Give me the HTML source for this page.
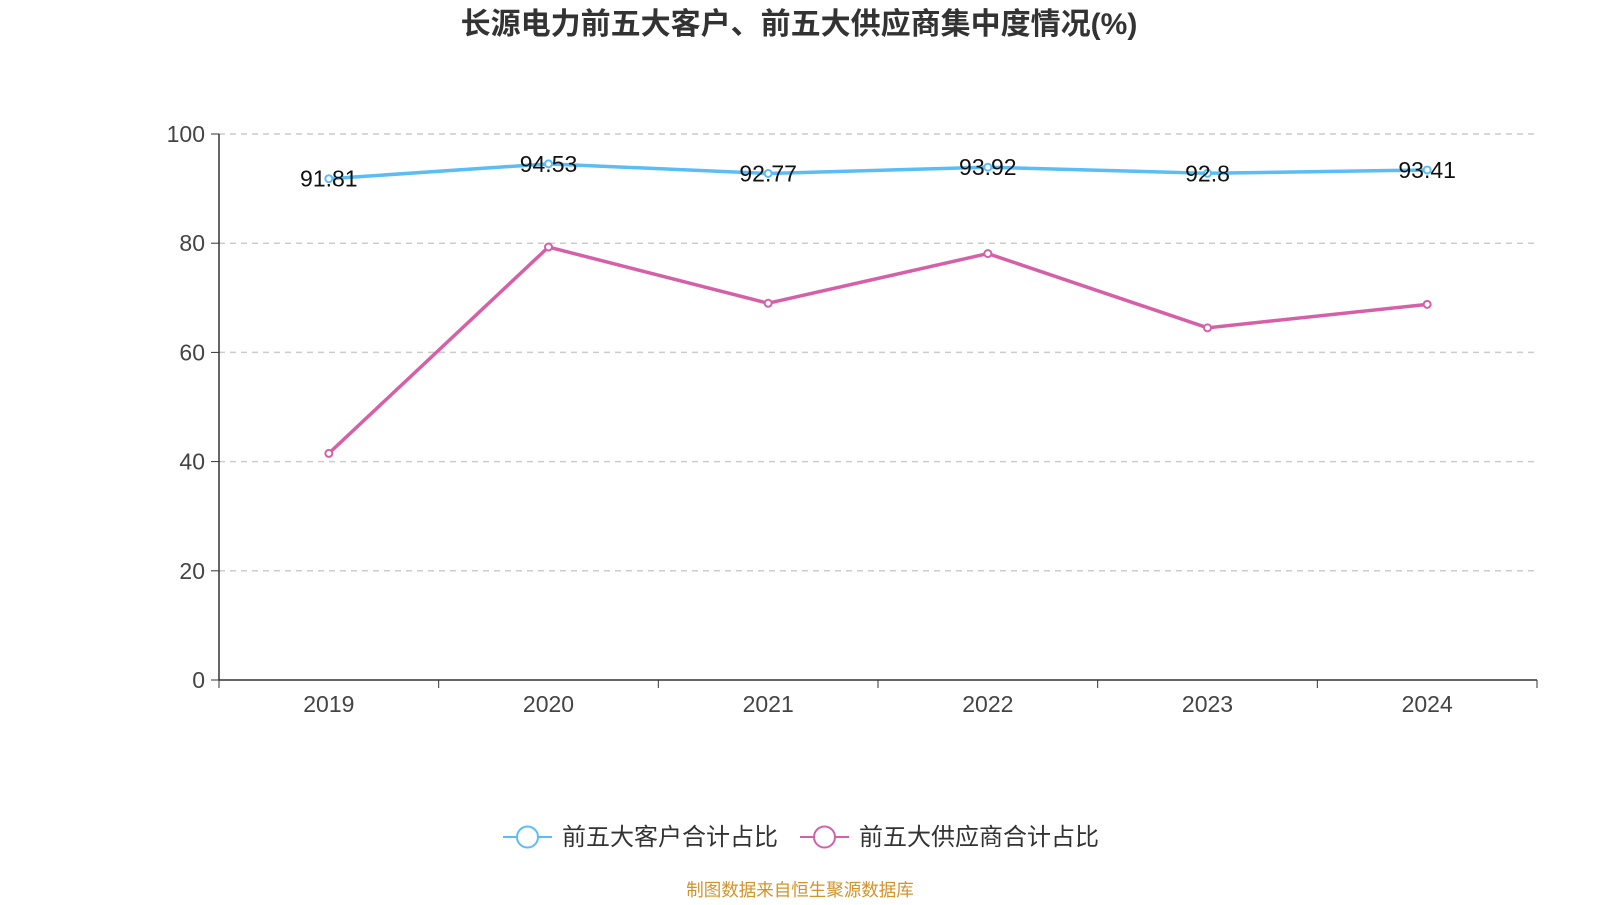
<!DOCTYPE html>
<html><head><meta charset="utf-8"><style>
body{margin:0;background:#fff;width:1600px;height:900px;overflow:hidden;font-family:"Liberation Sans","Noto Sans CJK SC",sans-serif}
</style></head><body>
<svg id="chart" width="1600" height="900" xmlns="http://www.w3.org/2000/svg" font-family="Liberation Sans, Noto Sans CJK SC, sans-serif"></svg>
<script>
const categories=["2019","2020","2021","2022","2023","2024"];
const customerValues=[91.81,94.53,92.77,93.92,92.8,93.41];
const supplierValues=[41.5,79.3,69.0,78.1,64.5,68.8];
const yTicks=[0,20,40,60,80,100];
const NS="http://www.w3.org/2000/svg";
const svg=document.getElementById('chart');
const L=219,R=1537,T=134,B=680;
const bw=(R-L)/categories.length;
const x=i=>L+bw*(i+0.5);
const y=v=>B-(v/100)*(B-T);
function mk(tag,attrs,parent){const e=document.createElementNS(NS,tag);for(const k in attrs)e.setAttribute(k,attrs[k]);(parent||svg).appendChild(e);return e;}
let t=mk('text',{x:799,y:34,'text-anchor':'middle','font-size':30,'font-weight':'bold',fill:'#333'});
t.textContent='长源电力前五大客户、前五大供应商集中度情况(%)';


yTicks.forEach(v=>{
 if(v>0){const g=mk('line',{x1:L,x2:R,y1:y(v),y2:y(v),stroke:'#ccc','stroke-dasharray':'6,5','stroke-width':1.5});
 
 }
 mk('line',{x1:L-8,x2:L,y1:y(v),y2:y(v),stroke:'#333'});
 const l=mk('text',{x:L-14,y:y(v)+8,'text-anchor':'end','font-size':23,fill:'#444'});l.textContent=v;
 
 
});
mk('line',{x1:L,x2:L,y1:T,y2:B,stroke:'#333','stroke-width':1.5});
mk('line',{x1:L,x2:R,y1:B,y2:B,stroke:'#333','stroke-width':1.5});
for(let i=0;i<=categories.length;i++)mk('line',{x1:L+bw*i,x2:L+bw*i,y1:B,y2:B+8,stroke:'#333'});
categories.forEach((c,i)=>{const l=mk('text',{x:x(i),y:712,'text-anchor':'middle','font-size':23,fill:'#444'});l.textContent=c;
 
 });
function series(vals,color,name,labels){
 const p=mk('polyline',{points:vals.map((v,i)=>x(i)+','+y(v)).join(' '),fill:'none',stroke:color,'stroke-width':3.5});
 
 
 vals.forEach((v,i)=>{const c=mk('circle',{cx:x(i),cy:y(v),r:3.5,fill:'#fff',stroke:color,'stroke-width':2});
  
  
  if(labels){const l=mk('text',{x:x(i),y:y(v)+8,'text-anchor':'middle','font-size':23,fill:'#111'});l.textContent=v;
   
   }
 });
}
series(supplierValues,'#d660a8','supplier',false);
series(customerValues,'#5bbdf5','customer',true);
function legend(x0,color,label,name){
 const g=mk('g',{});
 
 
 mk('line',{x1:x0,x2:x0+49,y1:837,y2:837,stroke:color,'stroke-width':2},g);
 mk('circle',{cx:x0+24.5,cy:837,r:10.5,fill:'#fff',stroke:color,'stroke-width':2},g);
 const l=mk('text',{x:x0+59,y:845,'font-size':24,fill:'#333'},g);l.textContent=label;
}
legend(503,'#5bbdf5','前五大客户合计占比','legend-customer');
legend(800,'#d660a8','前五大供应商合计占比','legend-supplier');
const f=mk('text',{x:800,y:896,'text-anchor':'middle','font-size':17.5,fill:'#d4922a'});f.textContent='制图数据来自恒生聚源数据库';


</script>
</body></html>
